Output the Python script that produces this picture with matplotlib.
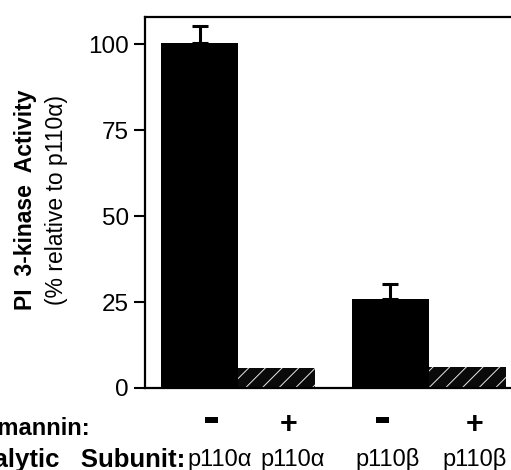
import numpy as np
import matplotlib.pyplot as plt
import matplotlib.transforms as mtransforms

# values
subunits = ['p110α', 'p110α', 'p110β', 'p110β']
wortmannin = ['-', '+', '-', '+']
activity = [100.3, 5.8, 25.8, 6.1]
err_up = [5.0, 0.0, 4.5, 0.0]
yticks = [0, 25, 50, 75, 100]

plt.rcParams['font.family'] = ['Liberation Sans', 'DejaVu Sans']
plt.rcParams['hatch.linewidth'] = 0.7

pos = np.array([0, 1, 2.47, 3.47])
nudge = np.array([0.26, 0.2, -0.03, 0.09])   # labels sit a bit off-centre in the scan
sign_nudge = np.array([0.16, 0.16, -0.1, 0.09])

fig = plt.figure(figsize=(5.11, 4.70), dpi=100)
ax = fig.add_axes([0.283, 0.1745, 0.755, 0.789])

treated = np.array([w == '+' for w in wortmannin])
ax.bar(pos[~treated], np.array(activity)[~treated], width=1.0,
       color='black', edgecolor='black', linewidth=0,
       yerr=[np.zeros((~treated).sum()), np.array(err_up)[~treated]],
       error_kw=dict(ecolor='black', elinewidth=2.2, capsize=6, capthick=2.2))
ax.bar(pos[treated], np.array(activity)[treated], width=1.0,
       color='#0a0a0a', edgecolor='#e8e8e8', linewidth=0, hatch='//')

ax.set_xlim(-0.714, 4.29)
ax.set_ylim(0, 107.9)
ax.set_yticks(yticks)
ax.set_yticklabels([str(v) for v in yticks], fontsize=17.5)
ax.tick_params(axis='y', direction='out', length=8, width=1.5, pad=3.5)
ax.set_xticks([])
for side in ['left', 'top', 'bottom']:
    ax.spines[side].set_linewidth(1.6)
ax.spines['right'].set_visible(False)

# y axis titles
fig.text(0.049, 0.574, 'PI  3-kinase  Activity', rotation=90, ha='center', va='center',
         fontsize=16.5, fontweight='bold')
fig.text(0.1115, 0.574, '(% relative to p110α)', rotation=90, ha='center', va='center',
         fontsize=16.5)

# rows beneath the bars
trans = mtransforms.blended_transform_factory(ax.transData, fig.transFigure)
for x, w in zip(pos + sign_nudge, wortmannin):
    if w == '+':
        ax.text(x, 0.079, '+', transform=trans, ha='center', va='baseline',
                fontsize=22, fontweight='bold')
    else:
        ax.text(x, 0.079, '-', transform=trans, ha='center', va='baseline',
                fontsize=37, fontweight='bold')
for x, s in zip(pos + nudge, subunits):
    ax.text(x, 0.0075, s, transform=trans, ha='center', va='baseline', fontsize=17)

fig.text(0.178, 0.0745, 'Wortmannin:', ha='right', va='baseline', fontsize=17,
         fontweight='bold')
fig.text(0.362, 0.0065, 'Catalytic   Subunit:', ha='right', va='baseline', fontsize=18.5,
         fontweight='bold')

fig.savefig('out.png', dpi=100)
